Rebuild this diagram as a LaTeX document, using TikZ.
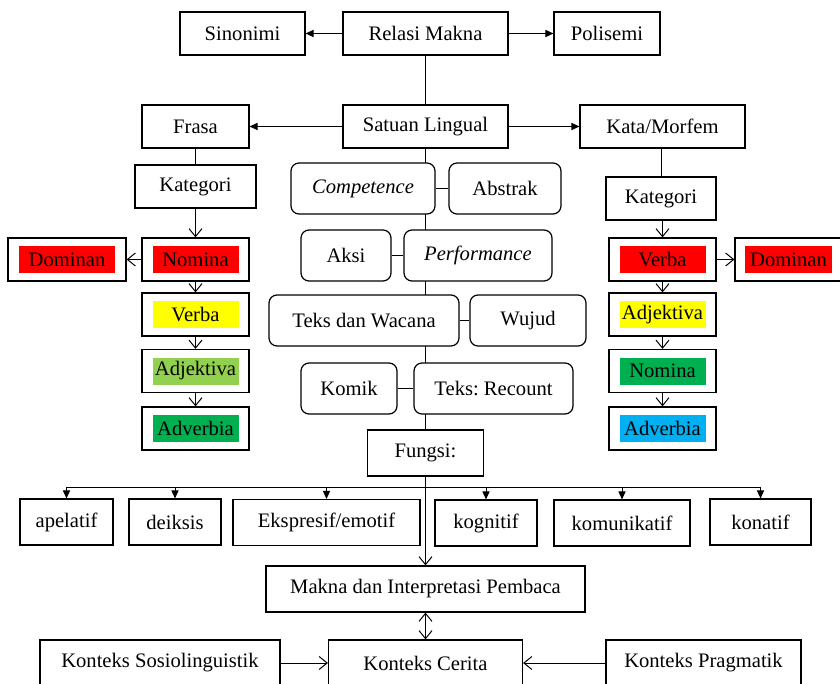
\documentclass[tikz,border=0pt]{standalone}
\usepackage{fontspec}
\setmainfont{Liberation Serif}
\usepackage{tikz}
\usetikzlibrary{arrows.meta}

\definecolor{merah}{HTML}{FF0000}
\definecolor{kuning}{HTML}{FFFF00}
\definecolor{hijaumuda}{HTML}{92D050}
\definecolor{hijau}{HTML}{00B050}
\definecolor{biru}{HTML}{00B0F0}

\begin{document}
\frenchspacing
\begin{tikzpicture}[
                x=0.5pt, y=-0.5pt, % 以像素为单位
                line width=0.5pt,
                every node/.style={font=\fontsize{10.3}{12}\selectfont},
                kotak/.style={
                    draw, % 绘制边框
                    fill=white, % 白色填充
                    line width=0.6pt, % 边框线宽
                    inner sep=0, % 内边距为 0
                    minimum height=21.5pt % 最小高度
                },
                bulat/.style={kotak, rounded corners=4pt, minimum height=25.5pt}, % 圆角框
                isian/.style={inner sep=0, minimum width=43pt, minimum height=13.5pt}, % 彩色底
                penuh/.style={-{Triangle[length=4pt, width=3.6pt]}}, % 实心箭头
                panah/.style={-{Straight Barb[length=4pt, width=6.5pt]}} % 开口箭头
            ]

            \useasboundingbox (0,0) rectangle (840,684);

            % 顶部两层
            \node[kotak, minimum width=62.5pt] (sinonimi) at (242.5,33.5) {Sinonimi};
            \node[kotak, minimum width=82.5pt] (relasi) at (425.5,33.5) {Relasi Makna};
            \node[kotak, minimum width=53pt] (polisemi) at (607,33.5) {Polisemi};
            \node[kotak, minimum width=53.5pt] (frasa) at (195.5,126.5) {Frasa};
            \node[kotak, minimum width=82.5pt] (satuan) at (425.5,126.5) {Satuan Lingual};
            \node[kotak, minimum width=82.5pt] (kata) at (662.5,126.5) {Kata/Morfem};

            \draw[penuh] (relasi) -- (sinonimi);
            \draw[penuh] (relasi) -- (polisemi);
            \draw (relasi) -- (satuan);
            \draw[penuh] (satuan) -- (frasa);
            \draw[penuh] (satuan) -- (kata);

            % 中间一列
            \node[kotak, minimum width=58pt, minimum height=23pt] (fungsi) at (425.5,453) {Fungsi:};
            \draw (satuan) -- (fungsi); % 主干线

            \node[bulat, minimum width=72pt] (competence) at (363,188.5) {\textit{Competence}};
            \node[bulat, minimum width=56pt] (abstrak) at (505,188.5) {Abstrak};
            \node[bulat, minimum width=45pt] (aksi) at (346,255.5) {Aksi};
            \node[bulat, minimum width=74pt] (performance) at (478,255.5) {\textit{Performance}};
            \node[bulat, minimum width=95pt] (teks) at (364,320.5) {Teks dan Wacana};
            \node[bulat, minimum width=58pt] (wujud) at (528,320.5) {Wujud};
            \node[bulat, minimum width=48pt] (komik) at (349,388.5) {Komik};
            \node[bulat, minimum width=79.5pt] (recount) at (493.5,388.5) {Teks: Recount};

            \draw (competence) -- (abstrak);
            \draw (aksi) -- (performance);
            \draw (teks) -- (wujud);
            \draw (komik) -- (recount);

            % 左边一列
            \node[kotak, minimum width=60.5pt] (kategorikiri) at (195.5,186.5) {Kategori};
            \draw (frasa) -- (kategorikiri);
            \foreach \i/\teks/\warna/\y in {1/Nomina/merah/259.5, 2/Verba/kuning/314.5,
                                            3/Adjektiva/hijaumuda/371, 4/Adverbia/hijau/428.5} {
                \node[kotak, minimum width=53.5pt] (kiri\i) at (195.5,\y) {};
                \node[isian, fill=\warna] at (kiri\i) {\teks};
            }
            \node[kotak, minimum width=59pt] (dominankiri) at (67,259.5) {};
            \node[isian, fill=merah, minimum width=48pt] at (dominankiri) {Dominan};
            \draw[panah] (kategorikiri) -- (kiri1);
            \draw[panah] (kiri1) -- (dominankiri);
            \foreach \i/\j in {1/2, 2/3, 3/4} {
                \draw[panah] (kiri\i) -- (kiri\j);
            }

            % 右边一列
            \node[kotak, minimum width=55pt] (kategorikanan) at (661,198.5) {Kategori};
            \draw (kata.south -| kategorikanan) -- (kategorikanan);
            \foreach \i/\teks/\warna/\y in {1/Verba/merah/259.5, 2/Adjektiva/kuning/314.5,
                                            3/Nomina/hijau/371, 4/Adverbia/biru/428.5} {
                \node[kotak, minimum width=53.5pt] (kanan\i) at (662.5,\y) {};
                \node[isian, fill=\warna] at (kanan\i) {\teks};
            }
            \node[kotak, minimum width=53.5pt] (dominankanan) at (788.5,259.5) {};
            \node[isian, fill=merah, minimum width=43.5pt] at (dominankanan) {Dominan};
            \draw[panah] (kategorikanan.south -| kanan1) -- (kanan1);
            \draw[panah] (kanan1) -- (dominankanan);
            \foreach \i/\j in {1/2, 2/3, 3/4} {
                \draw[panah] (kanan\i) -- (kanan\j);
            }

            % 功能
            \node[kotak, minimum width=46.5pt, minimum height=23pt] (apelatif) at (66.5,522) {apelatif};
            \node[kotak, minimum width=46pt, minimum height=23pt] (deiksis) at (175,522) {deiksis};
            \node[kotak, minimum width=93.5pt, minimum height=23pt] (ekspresif) at (326.5,522.5) {Ekspresif/emotif};
            \node[kotak, minimum width=51pt, minimum height=23pt] (kognitif) at (486,523) {kognitif};
            \node[kotak, minimum width=68pt, minimum height=23pt] (komunikatif) at (622,523) {komunikatif};
            \node[kotak, minimum width=50.5pt, minimum height=23pt] (konatif) at (760.5,522) {konatif};

            \coordinate (bus) at (0,487);
            \draw (apelatif.north |- bus) -- (konatif.north |- bus);
            \foreach \f in {apelatif, deiksis, ekspresif, kognitif, komunikatif, konatif} {
                \draw[penuh] (\f.north |- bus) -- (\f.north);
            }

            % 底部
            \node[kotak, minimum width=159.5pt, minimum height=23pt] (makna) at (425.5,589) {Makna dan Interpretasi Pembaca};
            \node[kotak, minimum width=97pt, minimum height=23pt] (cerita) at (425.5,663) {Konteks Cerita};
            \node[kotak, minimum width=120pt, minimum height=23pt] (sosio) at (160,663) {Konteks Sosiolinguistik};
            \node[kotak, minimum width=97.5pt, minimum height=23pt] (pragmatik) at (703.5,663) {Konteks Pragmatik};

            \draw[panah] (fungsi) -- (makna);
            \draw[{Straight Barb[length=4pt, width=6.5pt]}-{Straight Barb[length=4pt, width=6.5pt]}] (makna) -- (cerita);
            \draw[panah] (sosio) -- (cerita);
            \draw[panah] (pragmatik) -- (cerita);
\end{tikzpicture}
\end{document}
